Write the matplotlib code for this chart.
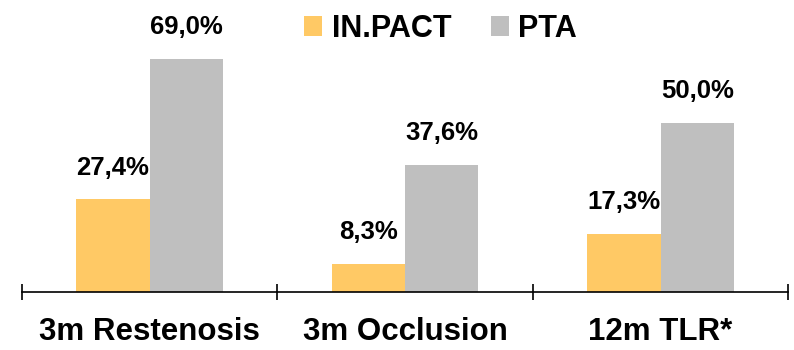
import matplotlib.pyplot as plt
import numpy as np

categories = ["3m Restenosis", "3m Occlusion", "12m TLR*"]
inpact = [27.4, 8.3, 17.3]
pta = [69.0, 37.6, 50.0]

plt.rcParams["font.family"] = ["Liberation Sans", "DejaVu Sans"]

fig = plt.figure(figsize=(7.94, 3.5), dpi=100)
ax = fig.add_axes([0.0277, 0.1657, 0.965, 0.772])

x = np.arange(len(categories))
w = 0.287
b1 = ax.bar(x - w / 2, inpact, w, color="#FFC965", label="IN.PACT")
b2 = ax.bar(x + w / 2, pta, w, color="#BFBFBF", label="PTA")

for bars, vals in ((b1, inpact), (b2, pta)):
    for r, v in zip(bars, vals):
        ax.annotate(f"{v:.1f}%".replace(".", ","),
                    (r.get_x() + r.get_width() / 2, v),
                    xytext=(0, 23), textcoords="offset points",
                    ha="center", va="center", fontsize=18.5, fontweight="bold")

ax.set_xlim(-0.5, 2.5)
ax.set_ylim(0, 80)
for s in ["top", "right", "left"]:
    ax.spines[s].set_visible(False)
ax.spines["bottom"].set_linewidth(1.2)
ax.set_yticks([])
ax.set_xticks([-0.5, 0.5, 1.5, 2.5])
ax.set_xticklabels([])
ax.tick_params(axis="x", direction="inout", length=12, width=1.2)
ax.set_xticks(x, minor=True)
ax.set_xticklabels(categories, minor=True, fontsize=22.5, fontweight="bold")
ax.tick_params(axis="x", which="minor", length=0, pad=18)

fig.legend(loc="center", bbox_to_anchor=(0.555, 0.918), ncol=2, frameon=False,
           prop={"weight": "bold", "size": 22},
           handlelength=0.6, handleheight=0.6, handletextpad=0.3, columnspacing=1.3)

fig.savefig("out.png", dpi=100)
